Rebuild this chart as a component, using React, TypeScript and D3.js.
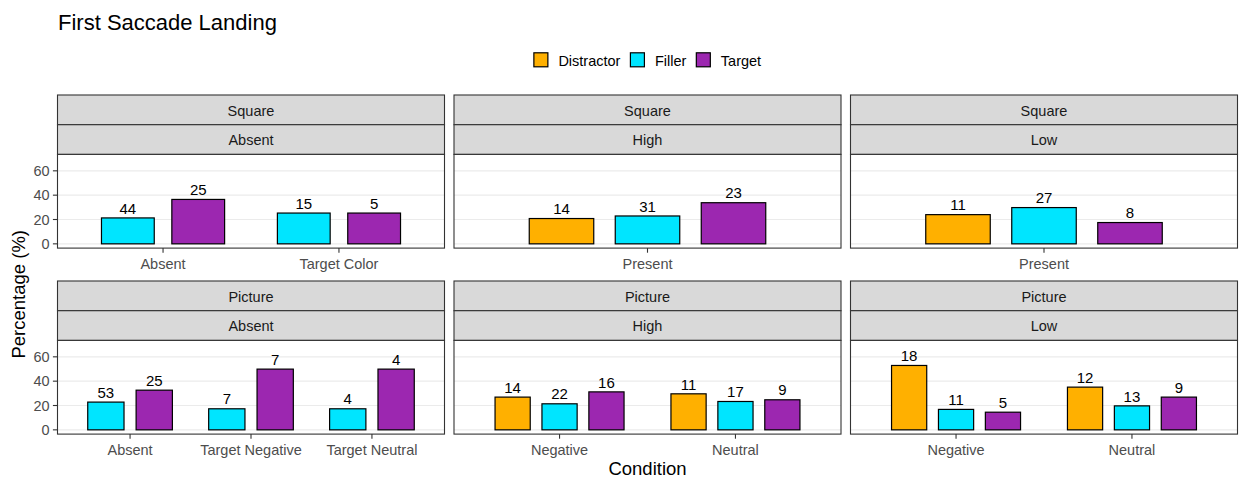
import React from "react";
import * as d3 from "d3";

// Facet layout
const shapes = ["Square", "Picture"];
const saliences = ["Absent", "High", "Low"];
const groups = ["Distractor", "Filler", "Target"];
const groupColors = ["#FFB000", "#00E5FF", "#9C27B0"];
const yTicks = [0, 20, 40, 60];

// Long-format columns: one entry per bar
const rowShape = [
  "Square", "Square", "Square", "Square",
  "Square", "Square", "Square",
  "Square", "Square", "Square",
  "Picture", "Picture", "Picture", "Picture", "Picture", "Picture",
  "Picture", "Picture", "Picture", "Picture", "Picture", "Picture",
  "Picture", "Picture", "Picture", "Picture", "Picture", "Picture",
];
const rowSalience = [
  "Absent", "Absent", "Absent", "Absent",
  "High", "High", "High",
  "Low", "Low", "Low",
  "Absent", "Absent", "Absent", "Absent", "Absent", "Absent",
  "High", "High", "High", "High", "High", "High",
  "Low", "Low", "Low", "Low", "Low", "Low",
];
const rowCondition = [
  "Absent", "Absent", "Target Color", "Target Color",
  "Present", "Present", "Present",
  "Present", "Present", "Present",
  "Absent", "Absent", "Target Negative", "Target Negative", "Target Neutral", "Target Neutral",
  "Negative", "Negative", "Negative", "Neutral", "Neutral", "Neutral",
  "Negative", "Negative", "Negative", "Neutral", "Neutral", "Neutral",
];
const rowGroup = [
  "Filler", "Target", "Filler", "Target",
  "Distractor", "Filler", "Target",
  "Distractor", "Filler", "Target",
  "Filler", "Target", "Filler", "Target", "Filler", "Target",
  "Distractor", "Filler", "Target", "Distractor", "Filler", "Target",
  "Distractor", "Filler", "Target", "Distractor", "Filler", "Target",
];
const rowPercent = [
  21.3, 36.5, 25.3, 25.3,
  20.8, 22.9, 33.8,
  24.0, 29.8, 17.5,
  22.8, 32.6, 17.3, 49.9, 17.3, 49.9,
  26.9, 21.4, 31.2, 29.6, 23.3, 24.7,
  52.9, 16.8, 14.5, 35.1, 19.7, 26.9,
];
const rowCount = [
  44, 25, 15, 5,
  14, 31, 23,
  11, 27, 8,
  53, 25, 7, 7, 4, 4,
  14, 22, 16, 11, 17, 9,
  18, 11, 5, 12, 13, 9,
];

const FONT = "'Liberation Sans', Arial, sans-serif";
const W = 1239;
const H = 479;
const panelLeft = 57.5;
const panelW = 387;
const panelGap = 9.5;
const stripH = 29.7;
const rowTops = [95, 281];
const panelH = 93.7;

const color = d3.scaleOrdinal<string, string>().domain(groups).range(groupColors);

function measure(text: string, size: number): number {
  const ctx = document.createElement("canvas").getContext("2d");
  if (!ctx) return text.length * size * 0.5;
  ctx.font = `${size}px 'Liberation Sans', Arial`;
  return ctx.measureText(text).width;
}

function Panel({ shape, salience, col, row }: { shape: string; salience: string; col: number; row: number }) {
  const x0 = panelLeft + col * (panelW + panelGap);
  const top = rowTops[row];
  const py0 = top + 2 * stripH;
  const py1 = py0 + panelH;

  const idx = d3.range(rowShape.length).filter(
    (i) => rowShape[i] === shape && rowSalience[i] === salience
  );
  const conditions = Array.from(new Set(idx.map((i) => rowCondition[i])));
  const present = groups.filter((g) => idx.some((i) => rowGroup[i] === g));

  const x = d3.scalePoint<string>().domain(conditions).range([x0, x0 + panelW]).padding(0.6);
  const step = conditions.length > 1 ? x.step() : panelW / 1.2;
  const k = present.length;
  const barW = (0.6 / k) * step;
  const dodge = (0.8 / k) * step;

  const y = d3.scaleLinear().domain([-3.5, 73.5]).range([py1, py0]);

  return (
    <g>
      {/* strips */}
      {[shape, salience].map((label, j) => (
        <g key={j}>
          <rect
            x={x0}
            y={top + j * stripH}
            width={panelW}
            height={stripH}
            fill="#d9d9d9"
            stroke="#333333"
            strokeWidth={1.1}
          />
          <text
            x={x0 + panelW / 2}
            y={top + j * stripH + stripH / 2 + 5.8}
            textAnchor="middle"
            fontSize={14.5}
            fill="#1a1a1a"
          >
            {label}
          </text>
        </g>
      ))}
      {/* panel background and grid */}
      <rect x={x0} y={py0} width={panelW} height={panelH} fill="#ffffff" />
      {yTicks.map((t) => (
        <line key={t} x1={x0} x2={x0 + panelW} y1={y(t)} y2={y(t)} stroke="#ebebeb" strokeWidth={1.1} />
      ))}
      {/* bars */}
      {idx.map((i) => {
        const gi = present.indexOf(rowGroup[i]);
        const cx = (x(rowCondition[i]) as number) + (gi - (k - 1) / 2) * dodge;
        return (
          <g key={i}>
            <rect
              x={cx - barW / 2}
              y={y(rowPercent[i])}
              width={barW}
              height={y(0) - y(rowPercent[i])}
              fill={color(rowGroup[i])}
              stroke="#000000"
              strokeWidth={1.2}
            />
            <text x={cx} y={y(rowPercent[i]) - 4.3} textAnchor="middle" fontSize={15} fill="#000000">
              {rowCount[i]}
            </text>
          </g>
        );
      })}
      {/* panel border */}
      <rect x={x0} y={py0} width={panelW} height={panelH} fill="none" stroke="#333333" strokeWidth={1.1} />
      {/* x axis */}
      {conditions.map((c) => (
        <g key={c}>
          <line x1={x(c)} x2={x(c)} y1={py1} y2={py1 + 4.6} stroke="#333333" strokeWidth={1.1} />
          <text x={x(c)} y={py1 + 21} textAnchor="middle" fontSize={14.5} fill="#4d4d4d">
            {c}
          </text>
        </g>
      ))}
      {/* y axis on the first column */}
      {col === 0 &&
        yTicks.map((t) => (
          <g key={t}>
            <line x1={x0 - 4.6} x2={x0} y1={y(t)} y2={y(t)} stroke="#333333" strokeWidth={1.1} />
            <text x={x0 - 7.8} y={y(t) + 5.2} textAnchor="end" fontSize={14.5} fill="#4d4d4d">
              {t}
            </text>
          </g>
        ))}
    </g>
  );
}

function Legend() {
  const size = 14.5;
  const key = 14;
  const keyGap = 10.5;
  const itemGap = 10;
  const widths = groups.map((g) => measure(g, size));
  const total = d3.sum(widths) + groups.length * (key + keyGap) + (groups.length - 1) * itemGap;
  const centre = panelLeft + (3 * panelW + 2 * panelGap) / 2;
  let cursor = centre - total / 2;
  const items = groups.map((g, i) => {
    const item = { g, x: cursor, w: widths[i] };
    cursor += key + keyGap + widths[i] + itemGap;
    return item;
  });
  return (
    <g>
      {items.map((it) => (
        <g key={it.g}>
          <rect x={it.x} y={52.8} width={key} height={key} fill={color(it.g)} stroke="#000000" strokeWidth={1.2} />
          <text x={it.x + key + keyGap} y={66.3} fontSize={size} fill="#000000">
            {it.g}
          </text>
        </g>
      ))}
    </g>
  );
}

export default function App() {
  const plotMidY = (rowTops[0] + 2 * stripH + rowTops[1] + 2 * stripH + panelH) / 2;
  return (
    <svg
      width={W}
      height={H}
      style={{ position: "absolute", left: 0, top: 0, background: "#ffffff" }}
      fontFamily={FONT}
    >
      <rect width={W} height={H} fill="#ffffff" />
      <text x={58} y={29.5} fontSize={22} fill="#000000">
        First Saccade Landing
      </text>
      <Legend />
      {shapes.map((s, r) =>
        saliences.map((sal, c) => <Panel key={`${s}-${sal}`} shape={s} salience={sal} col={c} row={r} />)
      )}
      <text
        transform={`translate(24.5, ${plotMidY}) rotate(-90)`}
        textAnchor="middle"
        fontSize={18.5}
        fill="#000000"
      >
        Percentage (%)
      </text>
      <text x={panelLeft + (3 * panelW + 2 * panelGap) / 2} y={474.5} textAnchor="middle" fontSize={18.5} fill="#000000">
        Condition
      </text>
    </svg>
  );
}
